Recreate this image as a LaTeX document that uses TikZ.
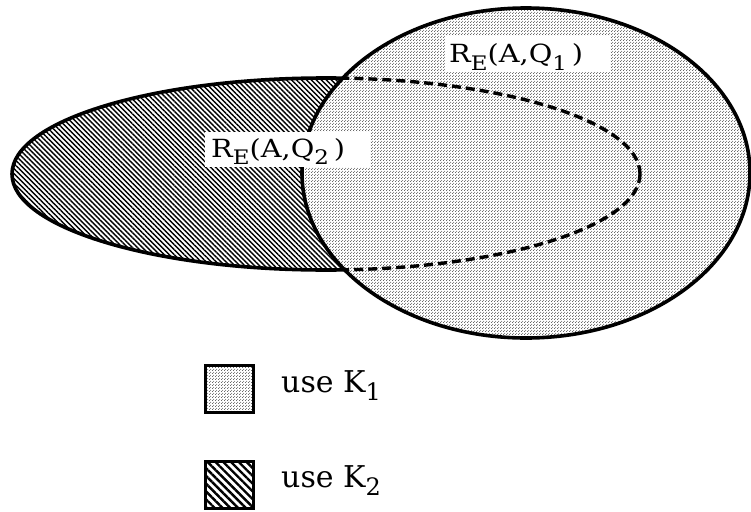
\documentclass[tikz,border=0pt]{standalone}
\usepackage{fontspec}
\setmainfont{DejaVu Serif}
\usetikzlibrary{patterns,patterns.meta}
\pgfdeclarepatternformonly{mydots}{\pgfqpoint{-0.75pt}{-0.75pt}}{\pgfqpoint{2.25pt}{2.25pt}}{\pgfqpoint{3pt}{3pt}}{%
  \pgfpathcircle{\pgfqpoint{0pt}{0pt}}{0.62pt}%
  \pgfpathcircle{\pgfqpoint{1.5pt}{1.5pt}}{0.62pt}%
  \pgfusepath{fill}}
\newcommand{\lsub}[1]{\raisebox{-0.28em}{\scalebox{0.8}{#1}}}
\tikzset{
  outline/.style={line width=3.6pt},
  dotfill/.style={pattern=mydots, pattern color=black!80},
  hatchfill/.style={pattern={Lines[angle=-45,distance=3.5pt,line width=1.4pt]}},
  hatchlegend/.style={pattern={Lines[angle=-45,distance=5.5pt,line width=2.4pt]}},
  dashline/.style={line width=3.4pt, dash pattern=on 9pt off 5pt},
  lbltext/.style={anchor=base west, inner sep=0pt, font=\fontsize{25}{25}\selectfont},
  legtext/.style={anchor=base west, inner sep=0pt, font=\fontsize{30}{30}\selectfont},
  legbox/.style={draw, line width=3.4pt, minimum size=47.5pt, inner sep=0pt},
}
\begin{document}
\begin{tikzpicture}[x=1pt,y=-1pt]
\useasboundingbox (0,0) rectangle (751,511);
\coordinate (c2) at (326,174);
\coordinate (c1) at (526,173);
% hatched ellipse R_E(A,Q_2)
\fill[white] (c2) ellipse [x radius=314, y radius=96];
\fill[hatchfill] (c2) ellipse [x radius=314, y radius=96];
\draw[outline] (c2) ellipse [x radius=314, y radius=96];
% dotted circle R_E(A,Q_1)
\fill[white] (c1) ellipse [x radius=224, y radius=165];
\fill[dotfill] (c1) ellipse [x radius=224, y radius=165];
\begin{scope}
  \clip (c1) ellipse [x radius=224, y radius=165];
  \draw[dashline] (c2) ellipse [x radius=314, y radius=96];
\end{scope}
\draw[outline] (c1) ellipse [x radius=224, y radius=165];
% labels
\fill[white] (445,36) rectangle (610,72);
\node[lbltext] (q1) at (449,63) {\scalebox{1.15}[1]{R\lsub{E}(A,Q\lsub{1}\,)}};
\fill[white] (205,132) rectangle (370,167);
\node[lbltext] (q2) at (211,157) {\scalebox{1.15}[1]{R\lsub{E}(A,Q\lsub{2}\,)}};
% legend
\node[legbox, dotfill] (k1box) at (229.5,389) {};
\node[legtext] (k1) at (281,392) {use K\lsub{1}};
\node[legbox, hatchlegend] (k2box) at (229.5,485) {};
\node[legtext] (k2) at (281,487) {use K\lsub{2}};
\end{tikzpicture}
\end{document}
